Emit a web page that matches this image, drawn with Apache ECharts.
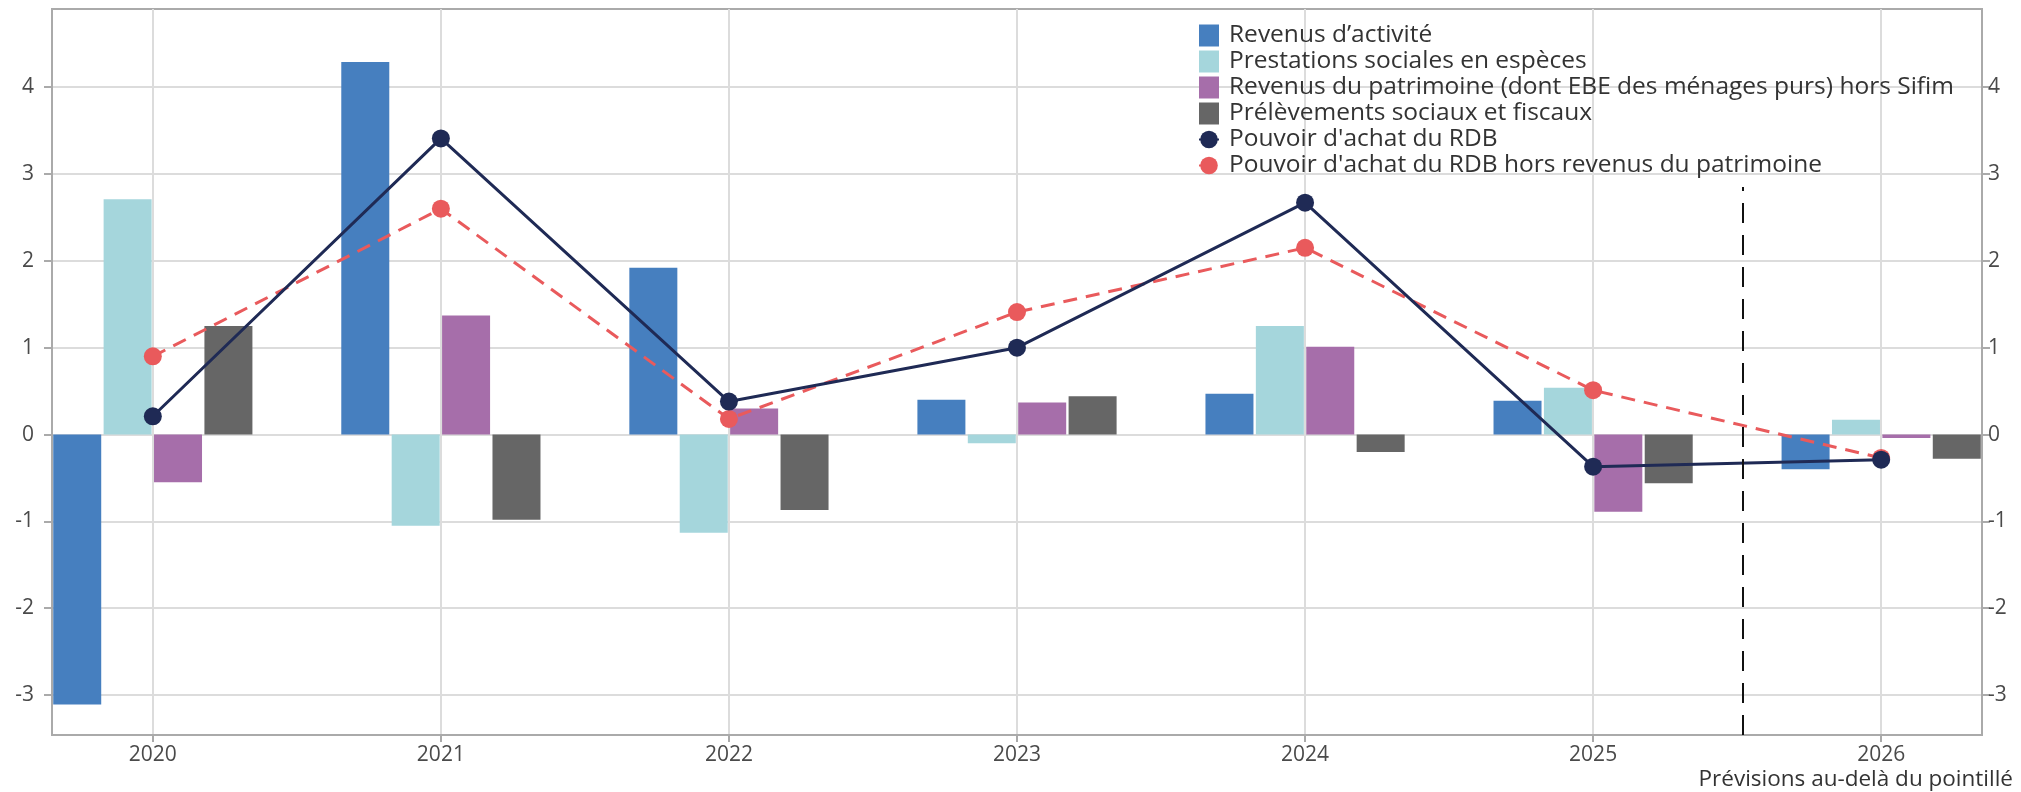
<!DOCTYPE html>
<html>
<head>
    <meta charset="utf-8" />
    <title>Pouvoir d'achat du RDB</title>
    <style>
        html, body, #chart {
            width: 100%;
            height: 100%;
            margin: 0;
            padding: 0;
            overflow: hidden;
            background: #fff;
        }
    </style>
    <script src="https://cdn.jsdelivr.net/npm/echarts@6/dist/echarts.min.js"></script>
</head>
<body>
    <div id="chart"></div>
    <script>
        // années (axe des x) et contributions en points
        var years = ['2020', '2021', '2022', '2023', '2024', '2025', '2026'];
        var revenusActivite = [-3.11, 4.29, 1.92, 0.40, 0.47, 0.39, -0.40];
        var prestationsSociales = [2.71, -1.05, -1.13, -0.10, 1.25, 0.54, 0.17];
        var revenusPatrimoine = [-0.55, 1.37, 0.30, 0.37, 1.01, -0.89, -0.04];
        var prelevements = [1.25, -0.98, -0.87, 0.44, -0.20, -0.56, -0.28];
        var pouvoirAchat = [0.21, 3.41, 0.38, 1.00, 2.67, -0.37, -0.29];
        var pouvoirHorsPatrimoine = [0.90, 2.60, 0.18, 1.41, 2.15, 0.51, -0.27];
        var yTicks = [-3, -2, -1, 0, 1, 2, 3, 4];
        var forecastFrom = 5.52; // position du pointillé (entre 2025 et 2026)

        var textColor = '#4a4a4a';
        var font = 'Open Sans';

        function pairs(values) {
            var out = [];
            for (var i = 0; i < values.length; i++) {
                out.push([i, values[i]]);
            }
            return out;
        }

        function barSerie(name, values, color) {
            return {
                name: name,
                type: 'bar',
                barWidth: 48,
                barGap: '5%',
                itemStyle: { color: color },
                data: pairs(values)
            };
        }

        var yAxisCommon = {
            type: 'value',
            min: -3.46,
            max: 4.9,
            interval: 1,
            axisLine: { show: true, onZero: false, lineStyle: { color: '#aaa', width: 2 } },
            axisTick: { show: true, length: 8, lineStyle: { color: '#aaa', width: 2 }, customValues: yTicks },
            axisLabel: { color: textColor, fontSize: 21, fontFamily: font, customValues: yTicks },
            splitLine: { lineStyle: { color: '#dcdcdc', width: 2 } }
        };

        var chart = echarts.init(document.getElementById('chart'));
        var option = {
            animation: false,
            textStyle: { fontFamily: font },
            grid: {
                left: 52,
                right: 39,
                top: 9,
                bottom: 57,
                show: true,
                borderColor: '#aaa',
                borderWidth: 2
            },
            legend: {
                orient: 'vertical',
                left: 1193,
                top: 18,
                itemWidth: 20,
                itemHeight: 22,
                itemGap: 1,
                textStyle: { color: '#333', fontSize: 24.5, fontFamily: font, lineHeight: 22, padding: [0, 0, 0, 5] },
                data: [
                    { name: 'Revenus d\u2019activité', icon: 'rect' },
                    { name: 'Prestations sociales en espèces', icon: 'rect' },
                    { name: 'Revenus du patrimoine (dont EBE des ménages purs) hors Sifim', icon: 'rect' },
                    { name: 'Prélèvements sociaux et fiscaux', icon: 'rect' },
                    'Pouvoir d\'achat du RDB',
                    'Pouvoir d\'achat du RDB hors revenus du patrimoine'
                ]
            },
            xAxis: {
                type: 'value',
                min: -0.35,
                max: 6.35,
                splitNumber: 7,
                axisLine: { onZero: false, lineStyle: { color: '#aaa', width: 2 } },
                axisTick: { length: 7, lineStyle: { color: '#aaa', width: 2 }, customValues: [0, 1, 2, 3, 4, 5, 6] },
                axisLabel: {
                    color: textColor,
                    fontSize: 21,
                    fontFamily: font,
                    margin: 10,
                    customValues: [0, 1, 2, 3, 4, 5, 6],
                    formatter: function (v) {
                        return years[Math.round(v)] || '';
                    }
                },
                splitLine: { show: true, lineStyle: { color: '#dcdcdc', width: 2 } }
            },
            yAxis: [
                Object.assign({ position: 'left' }, yAxisCommon, {
                    axisLabel: Object.assign({}, yAxisCommon.axisLabel, { margin: 18 })
                }),
                Object.assign({ position: 'right' }, yAxisCommon, {
                    splitLine: { show: false },
                    axisLabel: Object.assign({}, yAxisCommon.axisLabel, { margin: 6 })
                })
            ],
            series: [
                barSerie('Revenus d\u2019activité', revenusActivite, '#467fbf'),
                barSerie('Prestations sociales en espèces', prestationsSociales, '#a5d6dc'),
                barSerie('Revenus du patrimoine (dont EBE des ménages purs) hors Sifim', revenusPatrimoine, '#a66eaa'),
                barSerie('Prélèvements sociaux et fiscaux', prelevements, '#666666'),
                {
                    name: 'Pouvoir d\'achat du RDB',
                    type: 'line',
                    symbol: 'circle',
                    symbolSize: 18,
                    z: 4,
                    itemStyle: { color: '#1f2a55' },
                    lineStyle: { color: '#1f2a55', width: 3 },
                    data: pairs(pouvoirAchat),
                    markLine: {
                        silent: true,
                        symbol: 'none',
                        label: { show: false },
                        lineStyle: { color: '#111', width: 2, type: [20, 12] },
                        data: [[{ coord: [forecastFrom, -3.46] }, { coord: [forecastFrom, 2.85] }]]
                    }
                },
                {
                    name: 'Pouvoir d\'achat du RDB hors revenus du patrimoine',
                    type: 'line',
                    symbol: 'circle',
                    symbolSize: 18,
                    z: 3,
                    itemStyle: { color: '#e95a5c' },
                    lineStyle: { color: '#e95a5c', width: 3, type: [14, 9] },
                    data: pairs(pouvoirHorsPatrimoine)
                }
            ],
            graphic: [
                {
                    type: 'text',
                    right: 8,
                    top: 768,
                    style: {
                        text: 'Prévisions au-delà du pointillé',
                        fill: '#333',
                        fontSize: 22.5,
                        fontFamily: font
                    }
                }
            ]
        };
        chart.setOption(option);
    </script>
</body>
</html>
